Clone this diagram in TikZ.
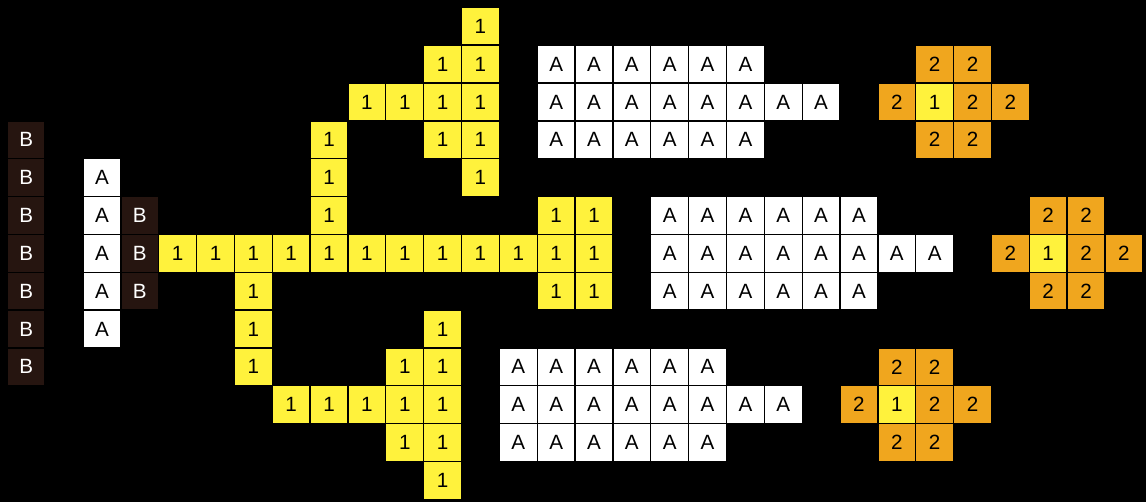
\documentclass[tikz,border=0pt]{standalone}
\usepackage{fontspec}
\setmainfont{Liberation Sans}
\definecolor{cellbrown}{HTML}{261510}
\definecolor{cellyellow}{HTML}{FFF23C}
\definecolor{cellorange}{HTML}{F0A61E}
\tikzset{
  cell/.style={draw=black,line width=1pt,minimum size=1cm,inner sep=0pt,
               font=\fontsize{15.5}{18}\selectfont},
  cellB/.style={cell,fill=cellbrown,text=white},
  cellA/.style={cell,fill=white},
  cellone/.style={cell,fill=cellyellow},
  celltwo/.style={cell,fill=cellorange},
}
% one square of the grid: style, column, row, text
\newcommand{\gridcell}[4]{\node[#1] (c-#2-#3) at ({#2+0.5},{-#3-0.5}) {#4};}
\begin{document}
\begin{tikzpicture}
  % background and margins
  \fill[black] (-0.193,0.193) rectangle (30.084,-13.07);
  % B columns
  \foreach \r in {3,...,9} {\gridcell{cellB}{0}{\r}{B}}
  \foreach \r in {5,6,7} {\gridcell{cellB}{3}{\r}{B}}
  % A column
  \foreach \r in {4,...,8} {\gridcell{cellA}{2}{\r}{A}}
  % main yellow path
  \foreach \c in {4,...,15} {\gridcell{cellone}{\c}{6}{1}}
  \foreach \c/\r in {14/5,15/5,14/7,15/7,8/3,8/4,8/5} {\gridcell{cellone}{\c}{\r}{1}}
  % upper branch
  \foreach \c/\r in {12/0,11/1,12/1,9/2,10/2,11/2,12/2,11/3,12/3,12/4}
    {\gridcell{cellone}{\c}{\r}{1}}
  % lower branch
  \foreach \c/\r in {6/7,6/8,6/9,11/8,10/9,11/9,7/10,8/10,9/10,10/10,11/10,
                     10/11,11/11,11/12}
    {\gridcell{cellone}{\c}{\r}{1}}
  % A blocks and crosses, by centre cell of each cross
  \foreach \cx/\cy in {24/2,27/6,23/10} {
    \pgfmathtruncatemacro{\first}{\cx-10}
    \pgfmathtruncatemacro{\shortend}{\cx-5}
    \pgfmathtruncatemacro{\longend}{\cx-3}
    \pgfmathtruncatemacro{\up}{\cy-1}
    \pgfmathtruncatemacro{\down}{\cy+1}
    \pgfmathtruncatemacro{\left}{\cx-1}
    \pgfmathtruncatemacro{\right}{\cx+1}
    \pgfmathtruncatemacro{\farright}{\cx+2}
    \foreach \c in {\first,...,\shortend} {
      \gridcell{cellA}{\c}{\up}{A}
      \gridcell{cellA}{\c}{\down}{A}
    }
    \foreach \c in {\first,...,\longend} {\gridcell{cellA}{\c}{\cy}{A}}
    \gridcell{cellone}{\cx}{\cy}{1}
    \gridcell{celltwo}{\cx}{\up}{2}
    \gridcell{celltwo}{\right}{\up}{2}
    \gridcell{celltwo}{\left}{\cy}{2}
    \gridcell{celltwo}{\right}{\cy}{2}
    \gridcell{celltwo}{\farright}{\cy}{2}
    \gridcell{celltwo}{\cx}{\down}{2}
    \gridcell{celltwo}{\right}{\down}{2}
  }
\end{tikzpicture}
\end{document}
